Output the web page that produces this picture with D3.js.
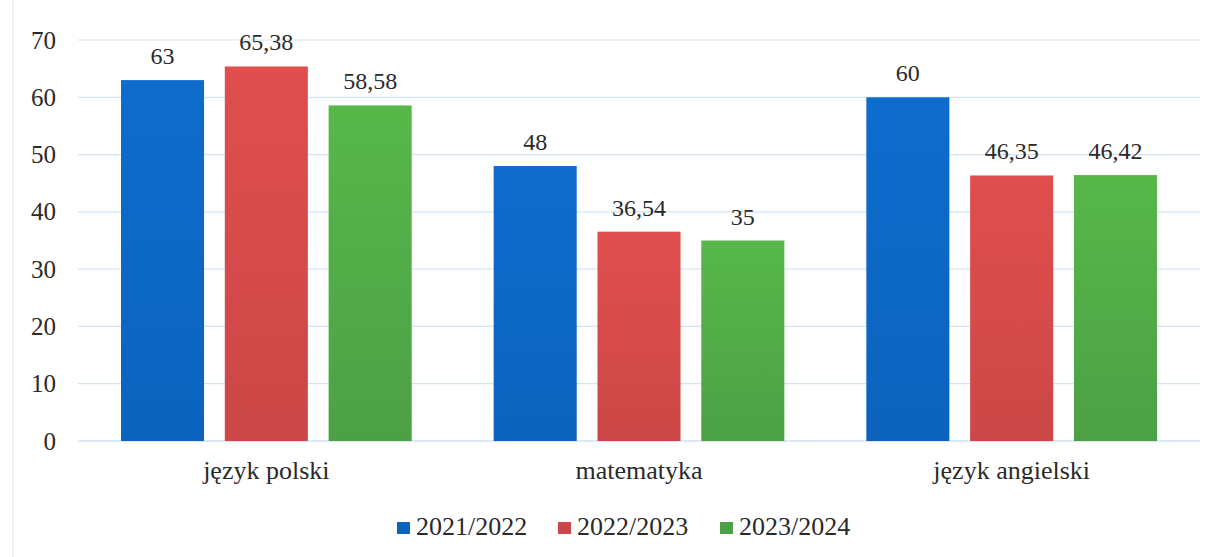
<!DOCTYPE html>
<html><head><meta charset="utf-8">
<script src="https://cdn.jsdelivr.net/npm/d3@7"></script>
<style>body{margin:0;background:#fff} svg{display:block} svg text{font-family:'Liberation Serif' !important;}</style>
</head><body><svg id="c" width="1218" height="557"></svg>
<script>
const categories = ["język polski", "matematyka", "język angielski"];
const seriesNames = ["2021/2022", "2022/2023", "2023/2024"];
const s2021 = [63, 48, 60];
const s2022 = [65.38, 36.54, 46.35];
const s2023 = [58.58, 35, 46.42];
const yTicks = [0, 10, 20, 30, 40, 50, 60, 70];
const colors = [["#0e6ccd", "#0b63bd"], ["#e04e4e", "#cc4747"], ["#57b849", "#4ca046"]];

const FONT = "Liberation Serif";
const seriesVals = [s2021, s2022, s2023];
const svg = d3.select("#c");
const W = 1218, H = 557;
const m = {l: 80, r: 20, t: 40, b: 116};
const x0 = d3.scaleBand().domain(categories).range([m.l, W - m.r]).paddingInner(0.22).paddingOuter(0.11);
const x1 = d3.scaleBand().domain(seriesNames).range([0, x0.bandwidth()]).paddingInner(0.2);
const y = d3.scaleLinear().domain([0, 70]).range([H - m.b, m.t]);

const defs = svg.append("defs");
colors.forEach((c, i) => {
  const g = defs.append("linearGradient").attr("id", "g" + i).attr("x1", 0).attr("x2", 0).attr("y1", 0).attr("y2", 1);
  g.append("stop").attr("offset", "0%").attr("stop-color", c[0]);
  g.append("stop").attr("offset", "100%").attr("stop-color", c[1]);
});

// faint frame line
svg.append("line").attr("x1", 13).attr("x2", 13).attr("y1", 0).attr("y2", H).attr("stroke", "#e3ecf6").attr("stroke-width", 1.5);

// grid
svg.append("g").selectAll("line").data(yTicks).join("line")
  .attr("x1", m.l - 2).attr("x2", W - m.r + 2)
  .attr("y1", d => y(d)).attr("y2", d => y(d))
  .attr("stroke", d => d === 0 ? "#b8d3ee" : "#d3e3f5").attr("stroke-width", 1.2);

// y axis labels
const ya = svg.append("g").attr("transform", "translate(56,0)")
  .call(d3.axisLeft(y).tickValues(yTicks).tickSize(0).tickPadding(0));
ya.attr("font-family", FONT).attr("font-size", 25);
ya.select(".domain").remove();
ya.selectAll("text").attr("fill", "#2a2a2a");

// bars
const barG = svg.append("g").attr("font-family", FONT).attr("font-size", 24);
categories.forEach((cat, ci) => {
  const g = barG.append("g").attr("transform", `translate(${x0(cat)},0)`);
  seriesNames.forEach((s, si) => {
    const v = seriesVals[si][ci];
    g.append("rect").attr("x", x1(s)).attr("width", x1.bandwidth())
      .attr("y", y(v)).attr("height", y(0) - y(v)).attr("fill", `url(#g${si})`);
    g.append("text").attr("font-family", FONT).attr("x", x1(s) + x1.bandwidth() / 2).attr("y", y(v) - 16)
      .attr("text-anchor", "middle").attr("fill", "#2a2a2a")
      .text(String(v).replace(".", ","));
  });
});

// x axis labels
const xa = svg.append("g").attr("transform", `translate(0,${y(0) + 38})`)
  .call(d3.axisBottom(x0).tickSize(0).tickPadding(0));
xa.attr("font-family", FONT).attr("font-size", 26);
xa.select(".domain").remove();
xa.selectAll("text").attr("dy", 0).attr("fill", "#2a2a2a");

// legend
const legX = [397, 558, 720];
const leg = svg.append("g").attr("font-family", FONT).attr("font-size", 26);
seriesNames.forEach((s, i) => {
  const lg = leg.append("g").attr("transform", `translate(${legX[i]},528)`);
  lg.append("rect").attr("x", 0).attr("y", -6).attr("width", 13).attr("height", 12).attr("fill", colors[i][1]);
  lg.append("text").attr("font-family", FONT).attr("x", 19).attr("y", 7).attr("fill", "#2a2a2a").text(s);
});
</script></body></html>
